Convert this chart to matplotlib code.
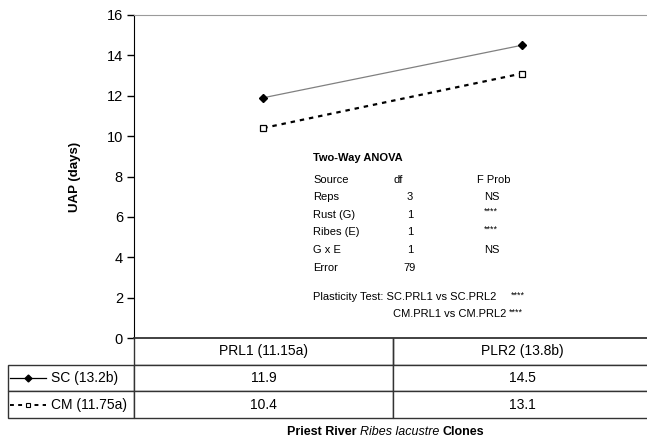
import numpy as np
import matplotlib.pyplot as plt

plt.rcParams['font.family'] = ['Liberation Sans', 'DejaVu Sans']

clones = ["PRL1 (11.15a)", "PLR2 (13.8b)"]
sc_vals = [11.9, 14.5]
cm_vals = [10.4, 13.1]
row_names = ["SC (13.2b)", "CM (11.75a)"]

anova_src = ["Reps", "Rust (G)", "Ribes (E)", "G x E", "Error"]
anova_df = ["3", "1", "1", "1", "79"]
anova_p = ["NS", "****", "****", "NS", ""]

W, H = 647, 442
fig = plt.figure(figsize=(W / 100, H / 100), dpi=100)

# axes box in pixels: left 134, right 651, top 15, bottom 338
L, R, T, B = 134, 651, 15, 338
ax = fig.add_axes([L / W, 1 - B / H, (R - L) / W, (B - T) / H])

x = np.arange(len(clones))
ax.plot(x, sc_vals, color='#808080', lw=0.9, zorder=3)
ax.plot(x, sc_vals, ls='none', marker='D', ms=4.5, color='black', zorder=4)
ax.plot(x, cm_vals, color='black', lw=1.6, ls=(0, (2, 2.2)), zorder=3)
ax.plot(x, cm_vals, ls='none', marker='s', ms=4.5, mfc='white', mec='black', mew=0.9, zorder=4)

ax.set_xlim(-0.5, 1.5)
ax.set_ylim(0, 16)
ax.set_yticks(range(0, 17, 2))
ax.set_xticks([])
ax.tick_params(axis='y', direction='out', length=5, width=1, labelsize=10.5, pad=3)
ax.spines['right'].set_visible(False)
ax.spines['top'].set_color('#9a9a9a')
ax.spines['bottom'].set_color('#333333')
ax.spines['bottom'].set_linewidth(1.3)
ax.spines['left'].set_color('black')

fig.text(75 / W, 1 - 177 / H, "UAP (days)", rotation=90, ha='center', va='center',
         fontsize=9.5, fontweight='bold')

# data table under the axis
cell_text = [[""] + [f"{v}" for v in sc_vals], [""] + [f"{v}" for v in cm_vals]]
tl, tr, tb = 8, 651, 418
tab = ax.table(cellText=cell_text, colLabels=[""] + clones,
               colWidths=[(L - tl), (393 - L), (tr - 393)],
               cellLoc='center',
               bbox=[(tl - L) / (R - L), -(tb - B) / (B - T), (tr - tl) / (R - L), (tb - B) / (B - T)])
tab.auto_set_font_size(False)
for (r, c), cell in tab.get_celld().items():
    cell.set_fontsize(10)
    cell.set_edgecolor('#333333')
    cell.set_linewidth(1)
    if r == 0:
        cell.visible_edges = '' if c == 0 else 'BLR'

# legend samples in the row labels
def px(xp, yp):
    return ((xp - L) / (R - L), (B - yp) / (B - T))

for i, name in enumerate(row_names):
    yp = 378 + i * 27
    x0, y0 = px(10, yp)
    x1, _ = px(46, yp)
    xm, _ = px(28, yp)
    if i == 0:
        ax.plot([x0, x1], [y0, y0], transform=ax.transAxes, color='black', lw=0.9, clip_on=False)
        ax.plot([xm], [y0], transform=ax.transAxes, marker='D', ms=3.5, color='black', clip_on=False)
    else:
        ax.plot([x0, x1], [y0, y0], transform=ax.transAxes, color='black', lw=1.4,
                ls=(0, (2, 2.2)), clip_on=False)
        ax.plot([xm], [y0], transform=ax.transAxes, marker='s', ms=3.5, mfc='white',
                mec='black', mew=0.8, clip_on=False)
    tx, ty = px(51, yp)
    ax.text(tx, ty, name, transform=ax.transAxes, ha='left', va='center', fontsize=10)

# ANOVA summary
fs = 8
star = 6.5
fig.text(313 / W, 1 - 158 / H, "Two-Way ANOVA", fontsize=fs, fontweight='bold', va='center')
fig.text(313 / W, 1 - 180 / H, "Source", fontsize=fs, va='center')
fig.text(398 / W, 1 - 180 / H, "df", fontsize=fs, va='center', ha='center')
fig.text(494 / W, 1 - 180 / H, "F Prob", fontsize=fs, va='center', ha='center')
for i, (s, d, p) in enumerate(zip(anova_src, anova_df, anova_p)):
    yy = 1 - (197 + i * 17.7) / H
    fig.text(313 / W, yy, s, fontsize=fs, va='center')
    fig.text(410 / W, yy, d, fontsize=fs, va='center', ha='center')
    if p.startswith('*'):
        fig.text(491 / W, yy + 3 / H, p, fontsize=star, va='center', ha='center')
    else:
        fig.text(492 / W, yy, p, fontsize=fs, va='center', ha='center')

fig.text(313 / W, 1 - 297 / H, "Plasticity Test: SC.PRL1 vs SC.PRL2", fontsize=fs, va='center')
fig.text(511 / W, 1 - 295 / H, "****", fontsize=star, va='center')
fig.text(506 / W, 1 - 314 / H, "CM.PRL1 vs CM.PRL2", fontsize=fs, va='center', ha='right')
fig.text(509 / W, 1 - 312 / H, "****", fontsize=star, va='center')

# x axis title with italic species name
t1 = fig.text(287 / W, 1 - 432 / H, "Priest River ", fontsize=9, fontweight='bold', va='center')
t2 = ax.annotate("Ribes lacustre ", xy=(1, 0), xycoords=t1, va='bottom', ha='left',
                 fontsize=9, fontstyle='italic', annotation_clip=False)
t3 = ax.annotate("Clones", xy=(1, 0), xycoords=t2, va='bottom', ha='left',
                 fontsize=9, fontweight='bold', annotation_clip=False)

fig.savefig("out.png", dpi=100)
